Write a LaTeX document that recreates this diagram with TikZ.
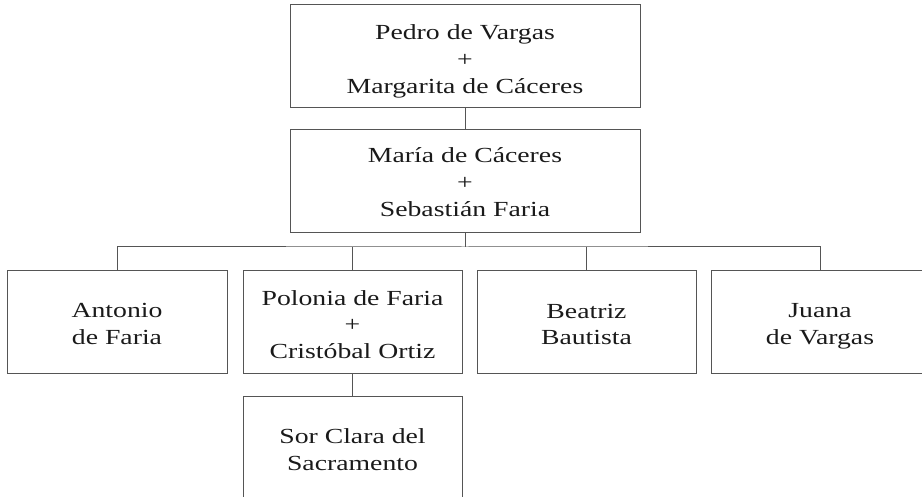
\documentclass[tikz,border=0pt]{standalone}
\usepackage{fontspec}
\setmainfont{Liberation Serif}[FakeStretch=1.29]
\definecolor{linecol}{HTML}{555555}
\definecolor{txtcol}{HTML}{1A1A1A}
\begin{document}
\begin{tikzpicture}[x=1pt,y=-1pt,
  famebox/.style={draw=linecol, line width=1pt, rectangle, inner sep=0pt},
  fametext/.style={align=center, text=txtcol, inner sep=0pt,
    font=\fontsize{21.5}{26.8}\selectfont},
  link/.style={draw=linecol, line width=1pt}]
\useasboundingbox (0,0) rectangle (922,497);
\clip (0,0) rectangle (922,497);
% boxes
\node[famebox, minimum width=350pt, minimum height=103pt] (pv) at (465,56.5) {};
\node[famebox, minimum width=350pt, minimum height=103pt] (mc) at (465,181.5) {};
\node[famebox, minimum width=220pt, minimum height=103pt] (ant) at (117,322.5) {};
\node[famebox, minimum width=219pt, minimum height=103pt] (pol) at (352.5,322.5) {};
\node[famebox, minimum width=219pt, minimum height=103pt] (bea) at (586.5,322.5) {};
\node[famebox, minimum width=218pt, minimum height=103pt] (jua) at (820,322.5) {};
\node[famebox, minimum width=219pt, minimum height=110pt] (sor) at (352.5,451) {};
% texts
\node[fametext, yshift=-4.6pt] (pvt) at (pv.center) {Pedro de Vargas\\+\\Margarita de Cáceres};
\node[fametext, yshift=-0.5pt] (mct) at (mc.center) {María de Cáceres\\+\\Sebastián Faria};
\node[fametext, yshift=-1.5pt] (antt) at (ant.center) {Antonio\\de Faria};
\node[fametext, yshift=-2pt] (polt) at (pol.center) {Polonia de Faria\\+\\Cristóbal Ortiz};
\node[fametext, yshift=-2pt] (beat) at (bea.center) {Beatriz\\Bautista};
\node[fametext, yshift=-4pt] (juat) at (jua.center) {Juana\\de Vargas};
\node[fametext, yshift=1pt] (sort) at (sor.center) {Sor Clara del\\Sacramento};
% connectors
\coordinate (bus) at (465,247);
\draw[link] (pv.south) -- (mc.north);
\draw[link] (mc.south) -- (bus);
\draw[link] (ant.north) |- (bus) -| (jua.north);
\draw[link] (pol.north) -- (pol.north |- bus);
\draw[link] (bea.north) -- (bea.north |- bus);
\draw[link] (pol.south) -- (sor.north);
\end{tikzpicture}
\end{document}
